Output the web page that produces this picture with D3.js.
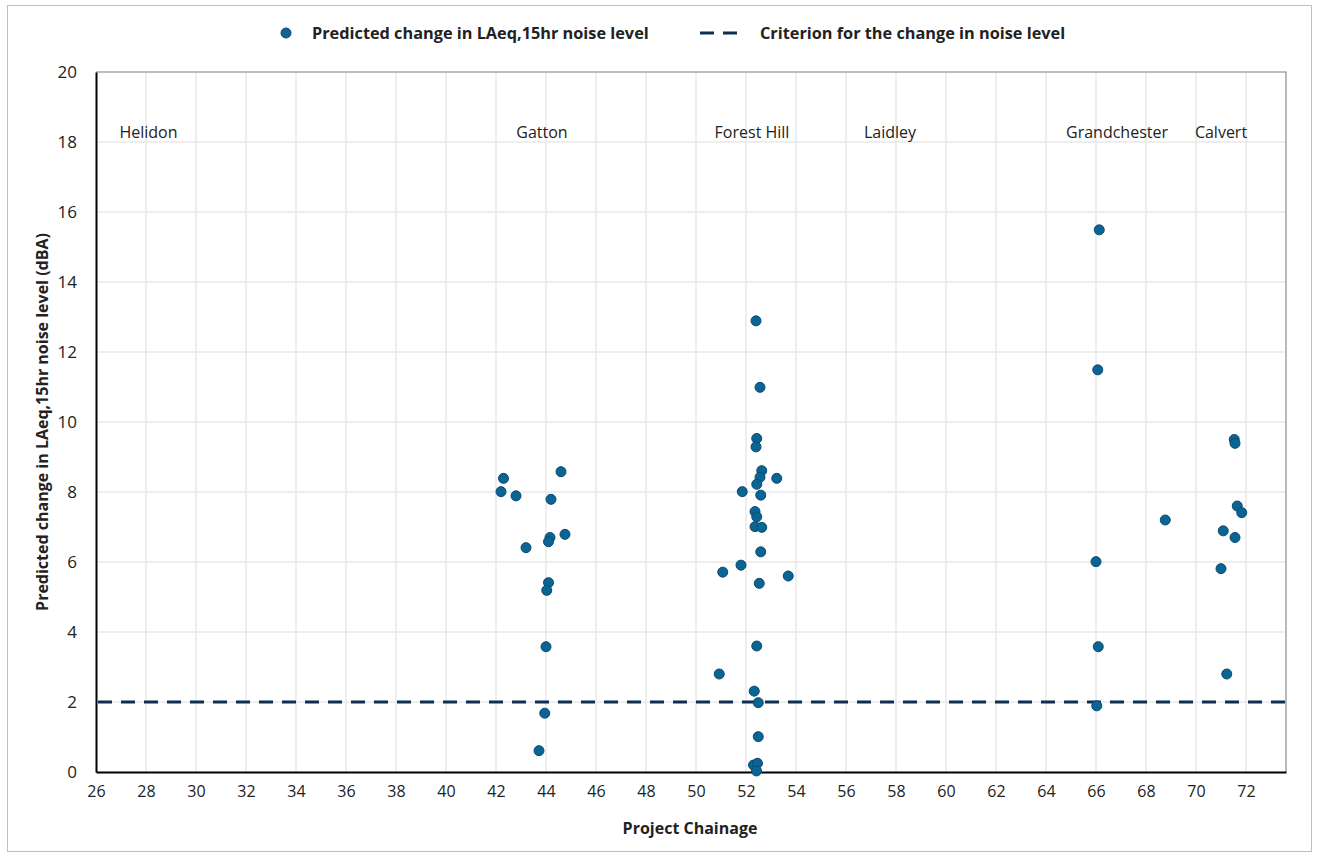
<!DOCTYPE html>
<html>
<head>
<meta charset="utf-8">
<script src="https://cdn.jsdelivr.net/npm/d3@7"></script>
<style>
  body { margin: 0; background: #fff; }
  svg { display: block; }
  .calibri { font-family: 'Liberation Sans Narrow', 'Open Sans', sans-serif; }
</style>
</head>
<body>
<div id="chart"></div>
<script>
const width = 1317
const height = 855
const margin = { top: 72, right: 31, bottom: 83, left: 96 }

// predicted change in LAeq,15hr (chainage km, dBA)
const gattonX = [44.6, 42.3, 42.2, 42.8, 44.2, 44.76, 44.16, 44.1, 43.2, 44.1, 44.03, 44.0, 43.95, 43.72]
const gattonY = [8.58, 8.39, 8.01, 7.89, 7.79, 6.79, 6.7, 6.58, 6.41, 5.41, 5.19, 3.58, 1.68, 0.61]

const forestHillX = [52.4, 52.56, 52.43, 52.4, 52.63, 53.23, 52.56, 52.43, 51.85, 52.59, 52.36, 52.43, 52.36, 52.63,
  52.59, 51.8, 51.07, 52.53, 53.69, 52.43, 50.93, 52.33, 52.49, 52.49, 52.3, 52.46, 52.42]
const forestHillY = [12.89, 10.99, 9.53, 9.29, 8.61, 8.39, 8.42, 8.22, 8.01, 7.91, 7.44, 7.29, 7.01, 6.99,
  6.29, 5.91, 5.71, 5.39, 5.6, 3.6, 2.8, 2.31, 1.98, 1.01, 0.2, 0.25, 0.03]

const grandchesterX = [66.13, 66.07, 66.0, 66.09, 66.03]
const grandchesterY = [15.49, 11.49, 6.01, 3.58, 1.89]

const calvertX = [71.53, 71.56, 68.77, 71.65, 71.83, 71.09, 71.56, 71.0, 71.23]
const calvertY = [9.5, 9.39, 7.2, 7.6, 7.41, 6.89, 6.7, 5.81, 2.8]

const criterion = 2

const towns = ['Helidon', 'Gatton', 'Forest Hill', 'Laidley', 'Grandchester', 'Calvert']
const townX = [28.1, 43.84, 52.24, 57.76, 66.84, 71.0]
const townY = 18.3

const xTicks = d3.range(26, 73, 2)
const yTicks = d3.range(0, 21, 2)

const points = []
;[[gattonX, gattonY], [forestHillX, forestHillY], [grandchesterX, grandchesterY], [calvertX, calvertY]]
  .forEach(([xs, ys]) => xs.forEach((x, i) => points.push({ x: x, y: ys[i] })))

const svg = d3
  .select('#chart')
  .append('svg')
  .attr('width', width)
  .attr('height', height)

// outer frame
svg
  .append('rect')
  .attr('x', 7.5)
  .attr('y', 5.5)
  .attr('width', 1304)
  .attr('height', 846)
  .attr('fill', 'none')
  .attr('stroke', '#bfbfbf')

const x = d3.scaleLinear().domain([26, 73.6]).range([margin.left, width - margin.right])
const y = d3.scaleLinear().domain([0, 20]).range([height - margin.bottom, margin.top])

// grid
svg
  .append('g')
  .selectAll('line')
  .data(xTicks.slice(1))
  .enter()
  .append('line')
  .attr('x1', d => x(d))
  .attr('x2', d => x(d))
  .attr('y1', y(0))
  .attr('y2', y(20))
  .attr('stroke', '#e8e8e8')
  .attr('stroke-width', 1.5)

svg
  .append('g')
  .selectAll('line')
  .data(yTicks.slice(1))
  .enter()
  .append('line')
  .attr('x1', x(26))
  .attr('x2', x(73.6))
  .attr('y1', d => y(d))
  .attr('y2', d => y(d))
  .attr('stroke', '#e8e8e8')
  .attr('stroke-width', 1.5)

// plot border (top / right)
svg
  .append('path')
  .attr('d', `M${x(26)},${y(20)} H${x(73.6)} V${y(0)}`)
  .attr('fill', 'none')
  .attr('stroke', '#8c8c8c')
  .attr('stroke-width', 1.2)

// axes
const xAxis = svg
  .append('g')
  .attr('transform', `translate(0,${y(0)})`)
  .call(d3.axisBottom(x).tickValues(xTicks).tickSize(0).tickPadding(14))
xAxis.select('.domain').attr('stroke', '#000').attr('stroke-width', 2)
xAxis.selectAll('text').attr('class', 'calibri').attr('font-size', 16).attr('fill', '#222')

const yAxis = svg
  .append('g')
  .attr('transform', `translate(${x(26)},0)`)
  .call(d3.axisLeft(y).tickValues(yTicks).tickSize(0).tickPadding(19))
yAxis.select('.domain').attr('stroke', '#000').attr('stroke-width', 2)
yAxis.selectAll('text').attr('font-family', 'Open Sans, sans-serif').attr('font-size', 17).attr('fill', '#222')

// criterion line
svg
  .append('line')
  .attr('x1', x(26) + 2)
  .attr('x2', x(73.6))
  .attr('y1', y(criterion))
  .attr('y2', y(criterion))
  .attr('stroke', '#0c2f52')
  .attr('stroke-width', 3.2)
  .attr('stroke-dasharray', '14,9')

// points
svg
  .append('g')
  .selectAll('circle')
  .data(points)
  .enter()
  .append('circle')
  .attr('cx', d => x(d.x))
  .attr('cy', d => y(d.y))
  .attr('r', 5)
  .attr('fill', '#0a6595')
  .attr('stroke', '#0b4a6e')
  .attr('stroke-width', 1)

// town labels
svg
  .append('g')
  .selectAll('text')
  .data(towns)
  .enter()
  .append('text')
  .attr('class', 'calibri')
  .attr('x', (d, i) => x(townX[i]))
  .attr('y', y(townY) + 6)
  .attr('text-anchor', 'middle')
  .attr('font-size', 16)
  .attr('fill', '#222')
  .text(d => d)

// axis titles
svg
  .append('text')
  .attr('class', 'calibri')
  .attr('x', 690)
  .attr('y', 834)
  .attr('text-anchor', 'middle')
  .attr('font-size', 16)
  .attr('font-weight', 'bold')
  .attr('fill', '#222')
  .text('Project Chainage')

svg
  .append('text')
  .attr('class', 'calibri')
  .attr('transform', `translate(48,${(y(0) + y(20)) / 2}) rotate(-90)`)
  .attr('text-anchor', 'middle')
  .attr('font-size', 16)
  .attr('font-weight', 'bold')
  .attr('fill', '#222')
  .text('Predicted change in LAeq,15hr noise level (dBA)')

// legend
const legend = svg.append('g').attr('transform', 'translate(0,33)')
legend
  .append('circle')
  .attr('cx', 286)
  .attr('cy', 0)
  .attr('r', 5)
  .attr('fill', '#0a6595')
  .attr('stroke', '#0b4a6e')
legend
  .append('text')
  .attr('class', 'calibri')
  .attr('x', 312)
  .attr('y', 6)
  .attr('font-size', 16.3)
  .attr('font-weight', 'bold')
  .attr('fill', '#222')
  .text('Predicted change in LAeq,15hr noise level')
legend
  .append('line')
  .attr('x1', 700)
  .attr('x2', 746)
  .attr('y1', 0)
  .attr('y2', 0)
  .attr('stroke', '#0c2f52')
  .attr('stroke-width', 3.2)
  .attr('stroke-dasharray', '14,9')
legend
  .append('text')
  .attr('class', 'calibri')
  .attr('x', 760)
  .attr('y', 6)
  .attr('font-size', 16.3)
  .attr('font-weight', 'bold')
  .attr('fill', '#222')
  .text('Criterion for the change in noise level')
</script>
</body>
</html>
